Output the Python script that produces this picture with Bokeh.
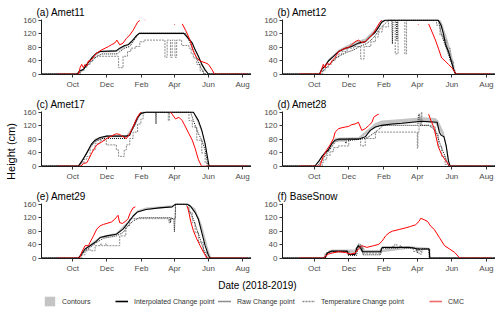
import math
from datetime import datetime, timedelta
from bokeh.plotting import figure
from bokeh.layouts import row, column
from bokeh.models import (Range1d, FixedTicker, MonthsTicker, DatetimeTickFormatter,
                          Legend, LegendItem)
from bokeh.core.properties import value
from bokeh.embed import file_html
from bokeh.resources import INLINE

nan = float("nan")

# ---------------- axis / text definitions ----------------
SEASON_START = datetime(2018, 10, 1)      # day 0 of all day arrays below
X_START = datetime(2018, 8, 6)
X_END = datetime(2019, 8, 17)
Y_TICKS = [0, 40, 80, 120, 160]
MONTHS_SHOWN = [1, 3, 5, 7, 9, 11]        # Feb Apr Jun Aug Oct Dec (0-based months)
PANEL_TITLES = ["(a) Amet11", "(b) Amet12", "(c) Amet17",
                "(d) Amet28", "(e) Amet29", "(f) BaseSnow"]
LEGEND_LABELS = ["Contours", "Interpolated Change point", "Raw Change point",
                 "Temperature Change point", "CMC"]
X_LABEL = "Date (2018-2019)"
Y_LABEL = "Height (cm)"

# ---------------- (a) Amet11 ----------------
a_con_day = [8, 19, 34, 49, 78, 99, 119, 199, 214, 231, 243]
a_con_lo = [0, 12, 45, 64, 66, 84, 118, 118, 88, 25, 0]
a_con_hi = [2, 17, 52, 70, 72, 91, 123, 123, 97, 34, 2]
a_int_day = [-55, 8, 12, 19, 25, 34, 43, 49, 78, 84, 93, 99, 105, 114, 119, 199, 205, 214, 219, 225, 231, 237, 242, 243, 320]
a_int_cm = [0, 0, 10, 14, 29, 48, 63, 67, 69, 77, 85, 87, 96, 114, 121, 121, 110, 92, 72, 53, 29, 12, 2, 0, 0]
a_raw_day = [-55, 10, 12, 22, 34, 43, 52, 80, 84, 93, 102, 108, 116, 119, 202, 208, 214, 222, 228, 234, 236, 320]
a_raw_cm = [0, 0, 5, 19, 39, 53, 60, 60, 67, 77, 82, 96, 116, 121, 121, 101, 77, 48, 24, 5, 0, 0]
a_tmp_day = [-55, 14, 20, 25, 31, 36, 44, 82, 90, 98, 104, 112, 120, 128, 165, 169, 175, 178, 183, 186, 195, 208, 212, 216, 222, 228, 234, 320]
a_tmp_cm = [0, 10, 20, 29, 39, 50, 53, 19, 53, 67, 77, 82, 96, 101, 50, 101, 50, 101, 50, 101, 85, 77, 60, 48, 29, 10, 0, 0]
a_cmc_day = [-27, 10, 12, 13, 16, 19, 22, 25, 28, 34, 40, 46, 52, 58, 64, 69, 75, 79, 84, 90, 96, 102, 108, 113, 116, 120, 125, 129, 130, 131, 182, 183, 184, 196, 202, 206, 211, 216, 222, 228, 237, 243, 249, 253, 254, 312]
a_cmc_cm = [0, 0, 10, 19, 29, 19, 29, 24, 39, 43, 58, 66, 72, 77, 82, 87, 92, 101, 87, 92, 106, 116, 130, 145, 154, 159, nan, 160, 161, nan, 147, 147, nan, 149, 130, 116, 96, 67, 48, 39, 34, 29, 14, 2, 0, 0]

# ---------------- (b) Amet12 ----------------
b_con_day = [9, 25, 43, 66, 90, 108, 119, 125, 219, 224, 232, 242, 250]
b_con_lo = [0, 36, 64, 80, 94, 122, 150, 158, 158, 140, 85, 35, 0]
b_con_hi = [2, 44, 72, 92, 106, 135, 160, 161, 161, 158, 120, 65, 4]
b_int_day = [-55, 9, 13, 19, 25, 34, 43, 55, 66, 78, 90, 99, 108, 114, 119, 125, 219, 224, 228, 232, 237, 242, 246, 249, 250, 320]
b_int_cm = [0, 0, 14, 24, 39, 53, 67, 77, 82, 92, 96, 111, 125, 140, 154, 160, 160, 145, 120, 87, 67, 39, 14, 2, 0, 0]
b_raw_day = [-55, 11, 14, 22, 31, 40, 49, 58, 70, 80, 92, 100, 108, 116, 125, 131, 137, 138, 139, 145, 146, 147, 219, 225, 231, 237, 243, 248, 249, 320]
b_raw_cm = [0, 0, 8, 20, 36, 50, 58, 65, 72, 82, 90, 100, 115, 135, 150, 160, 160, 90, 160, 160, 100, 160, 160, 116, 87, 58, 29, 5, 0, 0]
b_tmp_day = [-55, 15, 19, 25, 31, 37, 43, 49, 58, 70, 82, 88, 100, 108, 113, 120, 131, 143, 148, 160, 163, 216, 222, 228, 234, 240, 246, 249, 320]
b_tmp_cm = [0, 10, 20, 30, 40, 50, 60, 67, 77, 82, 45, 82, 96, 110, 125, 140, 160, 60, 160, 60, 160, 145, 116, 101, 77, 39, 10, 0, 0]
b_cmc_day = [-27, 10, 13, 16, 19, 22, 28, 31, 37, 43, 49, 55, 61, 66, 72, 78, 84, 90, 96, 102, 106, 111, 116, 119, 125, 183, 184, 185, 202, 208, 214, 219, 225, 231, 237, 243, 250, 251, 312]
b_cmc_cm = [0, 0, 14, 29, 19, 31, 29, 39, 50, 67, 72, 77, 79, 87, 96, 101, 94, 96, 106, 116, 125, 140, 154, 160, nan, 147, 147, nan, 149, 125, 101, 77, 48, 39, 29, 19, 2, 0, 0]

# ---------------- (c) Amet17 ----------------
c_con_day = [10, 25, 40, 61, 96, 108, 122, 131, 216, 231, 244]
c_con_lo = [0, 35, 72, 86, 86, 110, 152, 158, 158, 100, 0]
c_con_hi = [2, 43, 81, 92, 92, 120, 160, 161, 161, 112, 2]
c_int_day = [-55, 10, 16, 25, 34, 40, 49, 61, 96, 102, 108, 116, 122, 131, 216, 225, 231, 237, 242, 244, 320]
c_int_cm = [0, 0, 14, 39, 67, 77, 85, 89, 89, 92, 116, 145, 156, 160, 160, 135, 106, 67, 19, 0, 0]
c_raw_day = [-55, 11, 12, 22, 31, 40, 52, 96, 102, 111, 119, 125, 148, 149, 150, 211, 216, 225, 231, 237, 242, 243, 320]
c_raw_cm = [0, 0, 2, 29, 58, 72, 82, 82, 96, 120, 154, 160, 160, 125, 160, 160, 135, 96, 77, 48, 2, 0, 0]
c_tmp_day = [-55, 16, 20, 25, 31, 40, 49, 60, 78, 82, 92, 96, 102, 108, 116, 122, 126, 171, 173, 208, 214, 222, 231, 237, 240, 320]
c_tmp_cm = [0, 10, 20, 29, 48, 67, 77, 63, 48, 29, 48, 63, 82, 101, 125, 140, 160, 135, 160, 135, 116, 77, 39, 10, 0, 0]
c_cmc_day = [-27, 13, 16, 19, 25, 28, 31, 37, 43, 52, 61, 69, 78, 84, 90, 96, 102, 108, 114, 119, 122, 123, 175, 178, 184, 190, 196, 202, 208, 214, 219, 225, 230, 231, 312]
c_cmc_cm = [0, 0, 2, 8, 10, 19, 29, 48, 63, 72, 82, 89, 96, 94, 87, 82, 96, 116, 140, 154, 160, nan, 160, 154, 140, 145, 135, 116, 96, 77, 53, 19, 2, 0, 0]

# ---------------- (d) Amet28 ----------------
d_con_day = [2, 14, 25, 37, 78, 99, 108, 119, 155, 190, 214, 219, 229, 237, 240]
d_con_lo = [0, 27, 46, 75, 78, 104, 114, 119, 125, 131, 126, 110, 84, 14, 0]
d_con_hi = [4, 34, 55, 84, 86, 115, 128, 135, 140, 145, 143, 135, 100, 30, 2]
d_int_day = [-55, 0, 2, 8, 14, 19, 25, 31, 37, 43, 78, 90, 99, 108, 119, 137, 155, 172, 190, 217, 221, 224, 229, 233, 237, 240, 320]
d_int_cm = [0, 0, 2, 14, 29, 39, 48, 67, 77, 80, 80, 87, 106, 116, 121, 125, 127, 130, 133, 130, 100, 92, 87, 60, 14, 0, 0]
d_raw_day = [-55, 6, 7, 14, 25, 37, 43, 55, 56, 57, 90, 96, 108, 119, 121, 183, 184, 186, 187, 202, 214, 222, 231, 237, 238, 320]
d_raw_cm = [0, 0, 2, 19, 43, 72, 75, 75, 67, 75, 82, 87, 101, 116, 121, 121, 154, 154, 121, 121, 106, 67, 29, 2, 0, 0]
d_tmp_day = [-55, 14, 16, 22, 28, 34, 43, 61, 82, 90, 108, 182, 183, 185, 189, 190, 208, 214, 219, 225, 231, 237, 320]
d_tmp_cm = [0, 10, 19, 32, 43, 55, 60, 82, 60, 82, 101, 53, 101, 121, 160, 121, 116, 96, 58, 29, 5, 0, 0]
d_cmc_day = [-27, 10, 11, 16, 22, 28, 34, 37, 43, 49, 55, 61, 66, 72, 78, 84, 90, 96, 102, 105, 111, 114, 150, 202, 206, 211, 215, 219, 225, 231, 237, 240, 312]
d_cmc_cm = [0, 0, 5, 29, 48, 63, 82, 101, 111, 114, 116, 118, 123, 125, 130, 106, 111, 120, 130, 145, 152, 154, nan, 154, 135, 116, 87, 58, 34, 19, 5, 0, 0]

# ---------------- (e) Amet29 ----------------
e_con_day = [10, 22, 49, 78, 99, 116, 131, 178, 184, 205, 219, 231, 243, 248]
e_con_lo = [0, 25, 59, 69, 103, 135, 143, 151, 158, 158, 135, 80, 10, 0]
e_con_hi = [2, 30, 64, 75, 110, 142, 150, 157, 161, 161, 148, 100, 25, 2]
e_int_day = [-55, 10, 16, 22, 31, 40, 49, 61, 78, 90, 99, 108, 116, 131, 155, 178, 184, 205, 211, 219, 225, 231, 237, 243, 246, 320]
e_int_cm = [0, 0, 13, 27, 37, 47, 61, 66, 71, 86, 105, 125, 137, 144, 149, 152, 160, 160, 154, 135, 115, 76, 37, 8, 0, 0]
e_raw_day = [-55, 12, 13, 22, 31, 43, 55, 78, 90, 99, 108, 119, 174, 175, 176, 181, 182, 183, 184, 202, 208, 216, 222, 228, 234, 240, 241, 320]
e_raw_cm = [0, 0, 3, 22, 32, 47, 59, 66, 76, 96, 110, 120, 120, 105, 120, 115, 78, 115, 160, 160, 144, 115, 86, 57, 27, 3, 0, 0]
e_tmp_day = [-55, 16, 22, 28, 31, 40, 50, 52, 58, 60, 84, 95, 102, 172, 174, 184, 208, 214, 219, 225, 234, 240, 320]
e_tmp_cm = [0, 10, 22, 27, 22, 37, 42, 37, 42, 37, 66, 96, 117, 105, 117, 160, 135, 105, 76, 47, 18, 0, 0]
e_cmc_day = [-27, 12, 16, 19, 22, 28, 31, 37, 43, 49, 55, 61, 69, 75, 81, 84, 89, 95, 99, 103, 108, 112, 150, 205, 208, 211, 216, 222, 228, 234, 240, 312]
e_cmc_cm = [0, 0, 18, 27, 37, 37, 47, 66, 86, 96, 100, 103, 107, 115, 127, 105, 103, 110, 117, 135, 149, 152, nan, 154, 135, 110, 81, 57, 37, 18, 0, 0]

# ---------------- (f) BaseSnow ----------------
f_con_day = [19, 25, 31, 58, 72, 78, 84, 90, 117, 167, 203, 204]
f_con_lo = [0, 14, 17, 17, 10, 28, 20, 16, 17, 28, 24, 0]
f_con_hi = [2, 22, 26, 26, 26, 45, 40, 24, 25, 35, 31, 2]
f_int_day = [-55, 19, 22, 25, 31, 58, 61, 72, 75, 78, 82, 85, 117, 120, 167, 175, 181, 203, 204, 320]
f_int_cm = [0, 0, 12, 17, 21, 21, 11, 11, 30, 37, 30, 19, 19, 32, 32, 30, 27, 27, 0, 0]
f_raw_day = [-55, 20, 22, 30, 58, 60, 75, 77, 84, 86, 117, 119, 150, 152, 156, 180, 182, 184, 188, 190, 202, 203, 320]
f_raw_cm = [0, 0, 15, 19, 19, 8, 8, 35, 35, 10, 10, 30, 30, 38, 30, 30, 15, 30, 20, 28, 28, 0, 0]
f_tmp_day = [-55, 18, 22, 28, 58, 62, 74, 78, 82, 86, 118, 138, 142, 146, 175, 180, 185, 190, 195, 204, 320]
f_tmp_cm = [0, 12, 18, 20, 20, 12, 30, 41, 30, 15, 30, 35, 41, 32, 20, 28, 12, 25, 27, 0, 0]
f_cmc_day = [-27, 16, 20, 25, 31, 43, 55, 64, 72, 78, 84, 93, 105, 114, 120, 126, 132, 138, 150, 162, 170, 179, 185, 188, 194, 200, 206, 212, 221, 230, 239, 248, 257, 312]
f_cmc_cm = [0, 0, 6, 12, 15, 19, 17, 12, 15, 27, 37, 32, 37, 41, 51, 66, 75, 80, 85, 90, 94, 99, 109, 118, 114, 109, 94, 85, 61, 37, 27, 17, 0, 0]

# ---------------- styling ----------------
FONT = "Liberation Sans"
C_CONTOUR = "#BEBEBE"
C_INT = "#000000"
C_RAW = "#1A1A1A"
C_TMP = "#8A8A8A"
C_CMC = "#FF0000"
C_CMC_KEY = "#F26B6B"

ROW_H = 92
BOTTOM_H = 35
YLAB_W = 20


def dates(days):
    return [SEASON_START + timedelta(days=d) for d in days]


def panel(title, left_border, width, con, intp, raw, tmp, cmc):
    p = figure(width=width, height=ROW_H, x_axis_type="datetime",
               x_range=Range1d(X_START, X_END), y_range=Range1d(-1, 162),
               output_backend="svg", toolbar_location=None,
               min_border_left=left_border, min_border_right=0,
               min_border_top=19, min_border_bottom=18)
    p.title.text = title
    p.title.text_font = FONT
    p.title.text_font_size = "10px"
    p.title.text_font_style = "normal"
    p.title.text_color = "#000000"
    p.title.standoff = 3
    p.title.offset = -5
    p.outline_line_color = None
    p.xgrid.visible = False
    p.ygrid.visible = False
    p.background_fill_color = "white"
    p.border_fill_color = "white"

    p.xaxis.ticker = MonthsTicker(months=MONTHS_SHOWN)
    p.xaxis.formatter = DatetimeTickFormatter(months="%b", days="%b", years="%b")
    p.yaxis.ticker = FixedTicker(ticks=Y_TICKS)
    for ax in (p.xaxis[0], p.yaxis[0]):
        ax.axis_line_color = "#1A1A1A"
        ax.axis_line_width = 1
        ax.major_tick_line_color = "#333333"
        ax.major_tick_out = 3
        ax.major_tick_in = 0
        ax.minor_tick_out = 0
        ax.minor_tick_in = 0
        ax.major_label_text_font = FONT
        ax.major_label_text_font_size = "8px"
        ax.major_label_text_color = "#4D4D4D"
        ax.major_label_standoff = 2

    cd, clo, chi = con
    p.varea(x=dates(cd), y1=clo, y2=chi, fill_color=C_CONTOUR, fill_alpha=0.9)
    td, tc = tmp
    p.step(x=dates(td), y=tc, mode="after", line_color=C_TMP, line_dash="2 1", line_width=1)
    rd, rc = raw
    p.line(x=dates(rd), y=rc, line_color=C_RAW, line_dash="1 1", line_width=1)
    idd, ic = intp
    p.line(x=dates(idd), y=ic, line_color=C_INT, line_width=1.1)
    md, mc = cmc
    p.line(x=dates(md), y=mc, line_color=C_CMC, line_width=1)
    return p


LEFT_W, LEFT_B = 231, 20
RIGHT_W, RIGHT_B = 244, 31

pa = panel(PANEL_TITLES[0], LEFT_B, LEFT_W, (a_con_day, a_con_lo, a_con_hi), (a_int_day, a_int_cm),
           (a_raw_day, a_raw_cm), (a_tmp_day, a_tmp_cm), (a_cmc_day, a_cmc_cm))
pb = panel(PANEL_TITLES[1], RIGHT_B, RIGHT_W, (b_con_day, b_con_lo, b_con_hi), (b_int_day, b_int_cm),
           (b_raw_day, b_raw_cm), (b_tmp_day, b_tmp_cm), (b_cmc_day, b_cmc_cm))
pc = panel(PANEL_TITLES[2], LEFT_B, LEFT_W, (c_con_day, c_con_lo, c_con_hi), (c_int_day, c_int_cm),
           (c_raw_day, c_raw_cm), (c_tmp_day, c_tmp_cm), (c_cmc_day, c_cmc_cm))
pd_ = panel(PANEL_TITLES[3], RIGHT_B, RIGHT_W, (d_con_day, d_con_lo, d_con_hi), (d_int_day, d_int_cm),
            (d_raw_day, d_raw_cm), (d_tmp_day, d_tmp_cm), (d_cmc_day, d_cmc_cm))
pe = panel(PANEL_TITLES[4], LEFT_B, LEFT_W, (e_con_day, e_con_lo, e_con_hi), (e_int_day, e_int_cm),
           (e_raw_day, e_raw_cm), (e_tmp_day, e_tmp_cm), (e_cmc_day, e_cmc_cm))
pf = panel(PANEL_TITLES[5], RIGHT_B, RIGHT_W, (f_con_day, f_con_lo, f_con_hi), (f_int_day, f_int_cm),
           (f_raw_day, f_raw_cm), (f_tmp_day, f_tmp_cm), (f_cmc_day, f_cmc_cm))

# y-axis title column
GRID_H = 3 * ROW_H
lf = figure(width=YLAB_W, height=GRID_H, x_range=Range1d(0, YLAB_W), y_range=Range1d(0, GRID_H),
            x_axis_location=None, y_axis_location=None, output_backend="svg",
            toolbar_location=None, min_border=0)
lf.outline_line_color = None
lf.xgrid.visible = False
lf.ygrid.visible = False
lf.text(x=[10], y=[GRID_H - 151], text=[Y_LABEL], angle=math.pi / 2, text_align="center",
        text_baseline="middle", text_font=value(FONT), text_font_size="11px", text_color="#000000")

# bottom: x-axis title + legend
TOTAL_W = YLAB_W + LEFT_W + RIGHT_W
bf = figure(width=TOTAL_W, height=BOTTOM_H, x_range=Range1d(0, TOTAL_W), y_range=Range1d(0, BOTTOM_H),
            x_axis_location=None, y_axis_location=None, output_backend="svg",
            toolbar_location=None, min_border=0)
bf.outline_line_color = None
bf.xgrid.visible = False
bf.ygrid.visible = False
bf.text(x=[257], y=[BOTTOM_H - 9], text=[X_LABEL], text_align="center", text_baseline="middle",
        text_font=value(FONT), text_font_size="10px", text_color="#000000")

# legend proxies (data lie outside the visible range)
OFF = [-100, -90]
r_con = bf.varea(x=OFF, y1=[-100, -100], y2=[-99, -99], fill_color=C_CONTOUR, fill_alpha=0.9)
r_int = bf.line(x=OFF, y=[-100, -100], line_color=C_INT, line_width=1.6)
r_raw = bf.line(x=OFF, y=[-100, -100], line_color=C_RAW, line_dash="1 1", line_width=1.4)
r_tmp = bf.line(x=OFF, y=[-100, -100], line_color=C_TMP, line_dash="2 1", line_width=1.4)
r_cmc = bf.line(x=OFF, y=[-100, -100], line_color=C_CMC_KEY, line_width=1.6)
LEGEND_X = [43, 115, 218, 302, 429]
for lab, rend, lx in zip(LEGEND_LABELS, [r_con, r_int, r_raw, r_tmp, r_cmc], LEGEND_X):
    lg = Legend(items=[LegendItem(label=lab, renderers=[rend])], location=(lx, 4),
                orientation="horizontal", padding=0, margin=0, spacing=0,
                glyph_width=13, glyph_height=12, label_standoff=6, label_height=12,
                label_text_font=FONT, label_text_font_size="7px", label_text_color="#333333",
                border_line_alpha=0, background_fill_alpha=0)
    bf.add_layout(lg)

grid = column(row(pa, pb), row(pc, pd_), row(pe, pf))
layout = column(row(lf, grid), bf)

open("out.html", "w").write(file_html(layout, INLINE))
